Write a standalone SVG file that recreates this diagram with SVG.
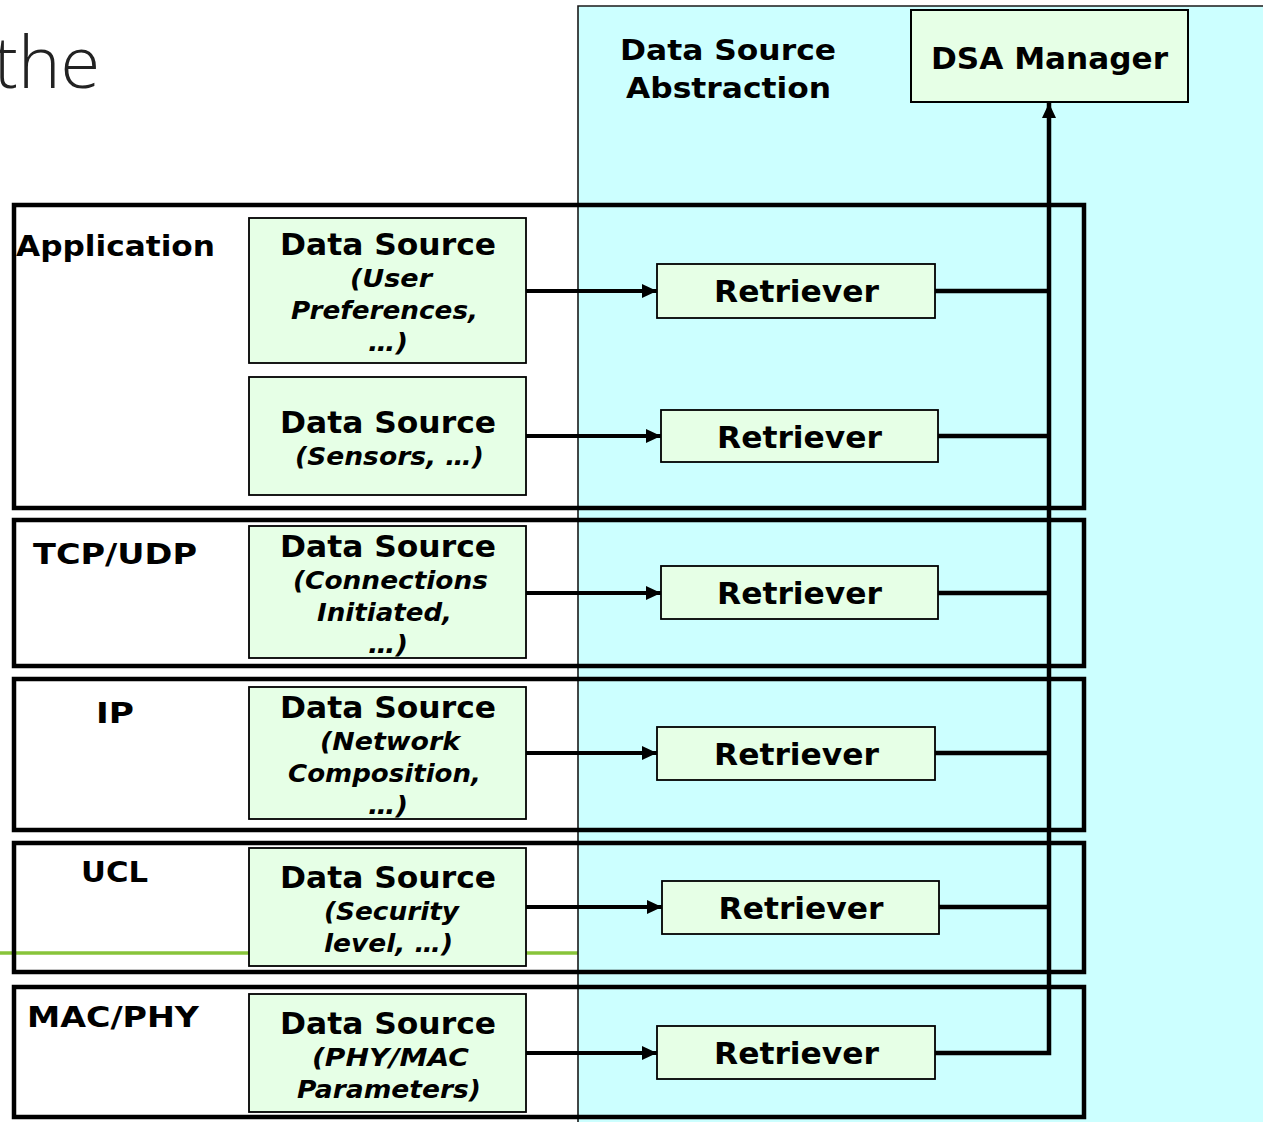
<svg xmlns="http://www.w3.org/2000/svg" width="1268" height="1122" viewBox="0 0 1268 1122">
<style>
  .layer { fill: none; stroke: #000; stroke-width: 4.5; }
  .ds { fill: #E6FFE6; stroke: #000; stroke-width: 1.8; }
  .ret { fill: #E6FFE6; stroke: #000; stroke-width: 1.8; }
  .b { font-family: "DejaVu Sans", Verdana, sans-serif; font-weight: bold; fill: #000; }
  .h { font-size: 30px; text-anchor: middle; }
  .i { font-size: 25px; font-style: italic; text-anchor: middle; }
  .lab { font-size: 29px; }
  .conn { fill: none; stroke: #000; stroke-width: 4; }
  .bus { fill: none; stroke: #000; stroke-width: 4.5; }
</style>
<defs>
  <marker id="arr" markerUnits="userSpaceOnUse" markerWidth="16" markerHeight="14" refX="15" refY="7" orient="auto">
    <path d="M0,0 L15,7 L0,14 z" fill="#000"/>
  </marker>
</defs>
<rect x="0" y="0" width="1268" height="1122" fill="#fff"/>
<text x="100" y="88" text-anchor="end" font-family="'Open Sans', 'DejaVu Sans', sans-serif" font-weight="300" font-size="72" fill="#222">the</text>
<line x1="0" y1="953" x2="578" y2="953" stroke="#88C43A" stroke-width="3.5"/>
<g id="dsa-panel">
  <rect x="578" y="6" width="685" height="1116" fill="#CCFFFF"/>
  <path d="M578,1122 V6 H1263" fill="none" stroke="#1a1a1a" stroke-width="1.6"/>
  <text class="b" x="620" y="60" font-size="29" textLength="216" lengthAdjust="spacingAndGlyphs">Data Source</text>
  <text class="b" x="626" y="98" font-size="29" textLength="205" lengthAdjust="spacingAndGlyphs">Abstraction</text>
</g>
<g id="dsa-manager">
  <rect x="911" y="10" width="277" height="92" fill="#E6FFE6" stroke="#000" stroke-width="2"/>
  <text class="b" x="931" y="69" font-size="30" textLength="237" lengthAdjust="spacingAndGlyphs">DSA Manager</text>
</g>
<g id="layer-application">
  <rect class="layer" x="14" y="205" width="1070" height="303"/>
  <text class="b lab" x="16" y="256" textLength="199" lengthAdjust="spacingAndGlyphs">Application</text>
</g>
<g id="layer-tcpudp">
  <rect class="layer" x="14" y="520" width="1070" height="146"/>
  <text class="b lab" x="33" y="564" textLength="164" lengthAdjust="spacingAndGlyphs">TCP/UDP</text>
</g>
<g id="layer-ip">
  <rect class="layer" x="14" y="679" width="1070" height="151"/>
  <text class="b lab" x="96" y="723" textLength="38" lengthAdjust="spacingAndGlyphs">IP</text>
</g>
<g id="layer-ucl">
  <rect class="layer" x="14" y="843" width="1070" height="129"/>
  <text class="b lab" x="81" y="882" textLength="67" lengthAdjust="spacingAndGlyphs">UCL</text>
</g>
<g id="layer-macphy">
  <rect class="layer" x="14" y="987" width="1070" height="130"/>
  <text class="b lab" x="27" y="1027" textLength="172" lengthAdjust="spacingAndGlyphs">MAC/PHY</text>
</g>
<g id="ds-user">
  <rect class="ds" x="249" y="218" width="277" height="145"/>
  <text class="b h" x="388" y="255" textLength="216" lengthAdjust="spacingAndGlyphs">Data Source</text>
  <text class="b i" x="391" y="287" textLength="82" lengthAdjust="spacingAndGlyphs">(User</text>
  <text class="b i" x="384.5" y="319" textLength="187" lengthAdjust="spacingAndGlyphs">Preferences,</text>
  <text class="b i" x="388" y="351" textLength="40" lengthAdjust="spacingAndGlyphs">…)</text>
</g>
<g id="ds-sensors">
  <rect class="ds" x="249" y="377" width="277" height="118"/>
  <text class="b h" x="388" y="433" textLength="216" lengthAdjust="spacingAndGlyphs">Data Source</text>
  <text class="b i" x="389.5" y="465" textLength="189" lengthAdjust="spacingAndGlyphs">(Sensors, …)</text>
</g>
<g id="ds-connections">
  <rect class="ds" x="249" y="526" width="277" height="132"/>
  <text class="b h" x="388" y="557" textLength="216" lengthAdjust="spacingAndGlyphs">Data Source</text>
  <text class="b i" x="390.5" y="589" textLength="195" lengthAdjust="spacingAndGlyphs">(Connections</text>
  <text class="b i" x="384.5" y="621" textLength="135" lengthAdjust="spacingAndGlyphs">Initiated,</text>
  <text class="b i" x="388" y="653" textLength="40" lengthAdjust="spacingAndGlyphs">…)</text>
</g>
<g id="ds-network">
  <rect class="ds" x="249" y="687" width="277" height="132"/>
  <text class="b h" x="388" y="718" textLength="216" lengthAdjust="spacingAndGlyphs">Data Source</text>
  <text class="b i" x="390" y="750" textLength="140" lengthAdjust="spacingAndGlyphs">(Network</text>
  <text class="b i" x="384.5" y="782" textLength="193" lengthAdjust="spacingAndGlyphs">Composition,</text>
  <text class="b i" x="388" y="814" textLength="40" lengthAdjust="spacingAndGlyphs">…)</text>
</g>
<g id="ds-security">
  <rect class="ds" x="249" y="848" width="277" height="118"/>
  <text class="b h" x="388" y="888" textLength="216" lengthAdjust="spacingAndGlyphs">Data Source</text>
  <text class="b i" x="391.5" y="920" textLength="135" lengthAdjust="spacingAndGlyphs">(Security</text>
  <text class="b i" x="388.5" y="952" textLength="129" lengthAdjust="spacingAndGlyphs">level, …)</text>
</g>
<g id="ds-phymac">
  <rect class="ds" x="249" y="994" width="277" height="118"/>
  <text class="b h" x="388" y="1034" textLength="216" lengthAdjust="spacingAndGlyphs">Data Source</text>
  <text class="b i" x="390.5" y="1066" textLength="157" lengthAdjust="spacingAndGlyphs">(PHY/MAC</text>
  <text class="b i" x="389" y="1098" textLength="184" lengthAdjust="spacingAndGlyphs">Parameters)</text>
</g>
<g id="retriever-1">
  <rect class="ret" x="657" y="264" width="278" height="54"/>
  <text class="b h" x="796.5" y="302" textLength="165" lengthAdjust="spacingAndGlyphs">Retriever</text>
</g>
<g id="retriever-2">
  <rect class="ret" x="661" y="410" width="277" height="52"/>
  <text class="b h" x="799.5" y="448" textLength="165" lengthAdjust="spacingAndGlyphs">Retriever</text>
</g>
<g id="retriever-3">
  <rect class="ret" x="661" y="566" width="277" height="53"/>
  <text class="b h" x="799.5" y="604" textLength="165" lengthAdjust="spacingAndGlyphs">Retriever</text>
</g>
<g id="retriever-4">
  <rect class="ret" x="657" y="727" width="278" height="53"/>
  <text class="b h" x="796.5" y="765" textLength="165" lengthAdjust="spacingAndGlyphs">Retriever</text>
</g>
<g id="retriever-5">
  <rect class="ret" x="662" y="881" width="277" height="53"/>
  <text class="b h" x="801" y="919" textLength="165" lengthAdjust="spacingAndGlyphs">Retriever</text>
</g>
<g id="retriever-6">
  <rect class="ret" x="657" y="1026" width="278" height="53"/>
  <text class="b h" x="796.5" y="1064" textLength="165" lengthAdjust="spacingAndGlyphs">Retriever</text>
</g>
<g id="connectors">
  <line class="conn" x1="526" y1="291" x2="657" y2="291" marker-end="url(#arr)"/>
  <line class="conn" x1="526" y1="436" x2="661" y2="436" marker-end="url(#arr)"/>
  <line class="conn" x1="526" y1="593" x2="661" y2="593" marker-end="url(#arr)"/>
  <line class="conn" x1="526" y1="753" x2="657" y2="753" marker-end="url(#arr)"/>
  <line class="conn" x1="526" y1="907" x2="662" y2="907" marker-end="url(#arr)"/>
  <line class="conn" x1="526" y1="1053" x2="657" y2="1053" marker-end="url(#arr)"/>
  <path class="bus" d="M935,291 H1049"/>
  <path class="bus" d="M938,436 H1049"/>
  <path class="bus" d="M938,593 H1049"/>
  <path class="bus" d="M935,753 H1049"/>
  <path class="bus" d="M939,907 H1049"/>
  <path class="bus" d="M935,1053 H1049 V103" marker-end="url(#arr)"/>
</g>
</svg>
